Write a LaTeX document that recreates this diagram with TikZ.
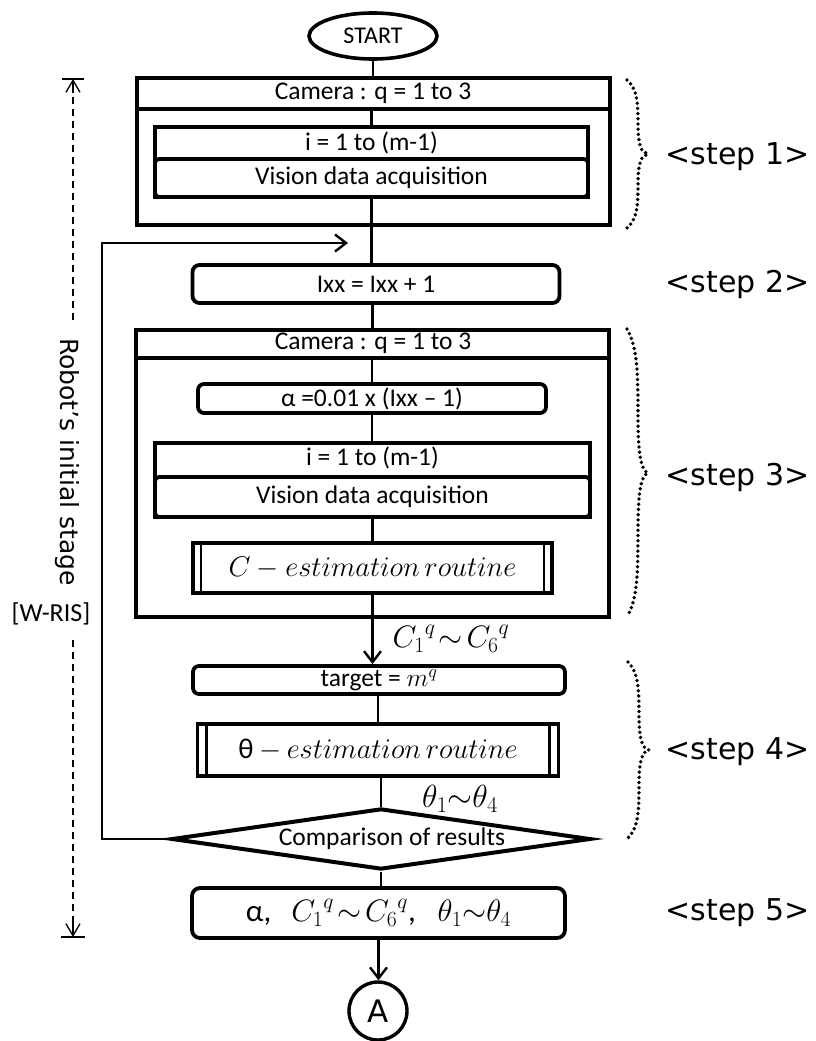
\RequirePackage{fix-cm}
\documentclass[tikz,border=0pt]{standalone}
\usepackage{fontspec}
\setmainfont{Carlito}
\newfontfamily\sidefont{DejaVu Sans}
\usetikzlibrary{shapes.geometric,arrows.meta,calc}

\begin{document}
\begin{tikzpicture}[x=1pt,y=-1pt,
  every node/.style={font=\fontsize{25.5}{30}\selectfont},
  box/.style={draw, line width=3.8pt, inner sep=0pt},
  rbox/.style={box, rounded corners=7pt},
  frame/.style={draw, line width=4.2pt, inner sep=0pt},
  rule/.style={line width=4pt},
  link/.style={line width=2.6pt},
  flow/.style={link, -{Straight Barb[length=11pt,width=17pt,line width=2.4pt]}},
  span/.style={line width=1.3pt, dash pattern=on 7pt off 5pt},
  spantip/.style={line width=1.3pt},
  bar/.style={line width=1.5pt},
  dotbrace/.style={line width=3.8pt, line cap=round, dash pattern=on 0pt off 5.2pt},
  steplabel/.style={font=\sidefont\fontsize{30}{36}\selectfont, anchor=west},
  mathlbl/.style={font=\fontsize{31}{36}\selectfont},
  dbrace/.pic={\draw[dotbrace] (0,0) .. controls (10,0.06) and (11,0.14) .. (11,0.3)
      .. controls (11,0.44) and (14,0.49) .. (21,0.5)
      .. controls (14,0.51) and (11,0.56) .. (11,0.7)
      .. controls (11,0.86) and (10,0.94) .. (0,1);},
]
\useasboundingbox (0,0) rectangle (816,1041);

% ---------- start ----------
\node[ellipse, draw, line width=3.6pt, minimum width=128pt, minimum height=46pt,
      inner sep=0pt, font=\fontsize{24}{28}\selectfont] (start) at (373,36) {START};

% ---------- step 1 ----------
\node[frame, minimum width=473pt, minimum height=147pt] (s1) at (373.5,151.5) {};
\node (s1h) at (373,93) {Camera : q = 1 to 3};
\coordinate (s1d) at (373,109);
\draw[rule] (s1.west |- s1d) -- (s1.east |- s1d);
\node[box, minimum width=433pt, minimum height=70pt] (l1) at (371.5,162) {};
\node (l1h) at (371.5,143) {i = 1 to (m-1)};
\node[rbox, rounded corners=4pt, minimum width=433pt, minimum height=38pt] (v1) at (371.5,178) {Vision data acquisition};

% ---------- step 2 ----------
\node[rbox, minimum width=367pt, minimum height=38pt] (ixx) at (376,284) {Ixx = Ixx + 1};

% ---------- step 3 ----------
\node[frame, minimum width=473pt, minimum height=287pt] (s3) at (372.5,473.5) {};
\node (s3h) at (373,343) {Camera : q = 1 to 3};
\coordinate (s3d) at (373,358);
\draw[rule] (s3.west |- s3d) -- (s3.east |- s3d);
\node[rbox, rounded corners=6pt, minimum width=348pt, minimum height=29pt] (al) at (372,398.5) {α =0.01 x (Ixx – 1)};
\node[box, minimum width=435pt, minimum height=74pt] (l3) at (372.5,480) {};
\node (l3h) at (372.5,458) {i = 1 to (m-1)};
\node[rbox, rounded corners=4pt, minimum width=435pt, minimum height=40pt] (v3) at (372.5,497) {Vision data acquisition};
\node[box, minimum width=359pt, minimum height=50pt, font=\fontsize{28.5}{34}\selectfont] (cest) at (372.5,568)
  {$C - estimation\,routine$};
\draw[line width=2.4pt] ([xshift=10pt]cest.north west) -- ([xshift=10pt]cest.south west);
\draw[line width=2.4pt] ([xshift=-10pt]cest.north east) -- ([xshift=-10pt]cest.south east);

% ---------- step 4 ----------
\node[rbox, rounded corners=6pt, minimum width=372pt, minimum height=28pt] (tgt) at (379,680) {target = $m^{q}$};
\node[box, minimum width=361pt, minimum height=52pt, font=\fontsize{28.5}{34}\selectfont] (th) at (378,750)
  {θ $- \, estimation\,routine$};
\draw[line width=2.4pt] ([xshift=11pt]th.north west) -- ([xshift=11pt]th.south west);
\draw[line width=2.4pt] ([xshift=-11pt]th.north east) -- ([xshift=-11pt]th.south east);
\node[diamond, draw, line width=4pt, aspect=7, inner sep=0pt,
      minimum width=419pt, minimum height=61pt] (cmp) at (381,839) {\hspace{22pt}Comparison of results};

% ---------- step 5 ----------
\node[rbox, rounded corners=8pt, minimum width=373pt, minimum height=50pt, font=\fontsize{31}{36}\selectfont] (fin) at (378.5,913)
  {α,\hspace{20pt}${C_1}^{q}\!\sim\!{C_6}^{q}$,\hspace{22pt}$\theta_1{\sim}\theta_4$};
\node[circle, draw, line width=3.4pt, minimum size=58pt, inner sep=0pt, font=\sidefont\fontsize{31}{36}\selectfont] (A) at (378,1011) {A};

% ---------- flow ----------
\draw[link] (start.south) -- (start.south |- s1.north);
\draw[link] (l1.north |- s1d) -- (l1.north);
\draw[link] (v1.south) -- (v1.south |- ixx.north);
\draw[link] (ixx.south -| s3.north) -- (s3.north);
\draw[link] (al.north |- s3d) -- (al.north);
\draw[link] (al.south) -- (al.south |- l3.north);
\draw[link] (v3.south) -- (v3.south |- cest.north);
\draw[flow] (cest.south) -- (cest.south |- tgt.north);
\draw[link] (tgt.south -| th.north) -- (th.north);
\draw[link] (cmp.north |- th.south) -- (cmp.north);
\draw[link] (cmp.south) -- (cmp.south |- fin.north);
\draw[flow] (fin.south) -- (fin.south |- A.north);

% loop back from the comparison
\coordinate (lc) at (102,243);
\coordinate (back) at (348,243);
\draw[flow] (cmp.west) -| (lc) -- (back);

% ---------- edge labels ----------
\node[mathlbl] (cl) at (451,639) {${C_1}^{q}\!\sim\!{C_6}^{q}$};
\node[mathlbl, font=\fontsize{32}{38}\selectfont] (tl) at (460,799) {$\theta_1{\sim}\theta_4$};

% ---------- step braces and labels ----------
\pic[yscale=148] at (627,80) {dbrace};
\pic[yscale=288] at (627,329) {dbrace};
\pic[yscale=176] at (628,662) {dbrace};
\node[steplabel] (st1) at (662,157) {<step 1>};
\node[steplabel] (st2) at (662,284) {<step 2>};
\node[steplabel] (st3) at (662,477) {<step 3>};
\node[steplabel] (st4) at (662,752) {<step 4>};
\node[steplabel] (st5) at (662,913) {<step 5>};

% ---------- initial-stage span ----------
\node[font=\sidefont\fontsize{25}{30}\selectfont, rotate=-90] (ris) at (67,462) {Robot’s initial stage};
\node[font=\fontsize{26}{30}\selectfont] (wris) at (51,614) {[W-RIS]};
\coordinate (dtop) at (73,79);
\coordinate (dg1) at (73,320);
\coordinate (dg2) at (73,640);
\coordinate (dbot) at (73,937);
\draw[span] (dg1) -- ([yshift=-4pt]dtop);
\draw[spantip, -{Straight Barb[length=12pt,width=14pt]}] ([yshift=-14pt]dtop) -- (dtop);
\draw[span] (dg2) -- ([yshift=4pt]dbot);
\draw[spantip, -{Straight Barb[length=12pt,width=14pt]}] ([yshift=14pt]dbot) -- (dbot);
\draw[bar] ([xshift=-11pt]dtop) -- ([xshift=11pt]dtop);
\draw[bar] ([xshift=-12pt]dbot) -- ([xshift=12pt]dbot);
\end{tikzpicture}
\end{document}
